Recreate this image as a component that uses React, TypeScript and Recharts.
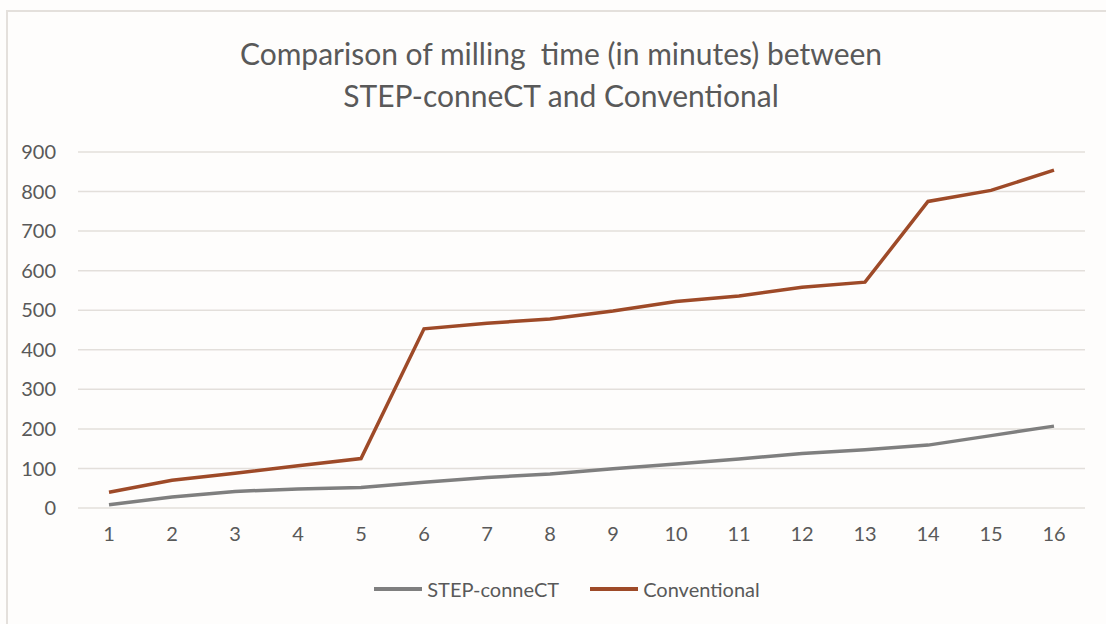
import { LineChart, Line, XAxis, YAxis, CartesianGrid, Legend } from "recharts"

const runs = ["1", "2", "3", "4", "5", "6", "7", "8", "9", "10", "11", "12", "13", "14", "15", "16"]
const stepConnect = [8, 28, 42, 48, 52, 65, 77, 86, 99, 111, 124, 138, 147, 159, 183, 207]
const conventional = [40, 70, 88, 107, 125, 453, 467, 478, 498, 522, 536, 558, 571, 775, 803, 854]
const yTicks = [0, 100, 200, 300, 400, 500, 600, 700, 800, 900]
const seriesNames = ["STEP-conneCT", "Conventional"]

const data = runs.map((run, i) => ({
  run,
  step: stepConnect[i],
  conv: conventional[i],
}))

const font = "Lato, 'Open Sans', sans-serif"
const textColor = "#595959"

function LegendBox(props: any) {
  const items = [...(props.payload || [])].sort(
    (a: any, b: any) => seriesNames.indexOf(a.value) - seriesNames.indexOf(b.value)
  )
  return (
    <div
      style={{
        display: "flex",
        justifyContent: "center",
        alignItems: "center",
        height: 24,
        paddingLeft: 28,
        fontFamily: font,
        fontSize: 20,
        color: textColor,
      }}
    >
      {items.map((item: any, i: number) => (
        <div
          key={item.value}
          style={{ display: "flex", alignItems: "center", marginLeft: i > 0 ? 31 : 0 }}
        >
          <svg width={48} height={10} style={{ marginRight: 5 }}>
            <line x1={0} y1={5} x2={48} y2={5} stroke={item.color} strokeWidth={4} />
          </svg>
          <span>{item.value}</span>
        </div>
      ))}
    </div>
  )
}

export default function App() {
  return (
    <div
      style={{
        position: "absolute",
        left: 0,
        top: 0,
        width: 1106,
        height: 624,
        background: "#fefdfc",
        fontFamily: font,
        overflow: "hidden",
      }}
    >
      <div
        style={{
          position: "absolute",
          left: 6,
          top: 10,
          width: 1200,
          height: 700,
          borderLeft: "2px solid #e4e0dc",
          borderTop: "2px solid #e4e0dc",
        }}
      />
      <div
        style={{
          position: "absolute",
          left: 0,
          width: 1122,
          top: 32,
          textAlign: "center",
          fontSize: 30,
          lineHeight: "42px",
          color: textColor,
        }}
      >
        Comparison of milling&nbsp; time (in minutes) between
        <br />
        STEP-conneCT and Conventional
      </div>
      <LineChart
        width={1106}
        height={624}
        data={data}
        margin={{ top: 152, right: 21, left: 0, bottom: 52 }}
        style={{ position: "absolute", left: 0, top: 0 }}
      >
        <CartesianGrid vertical={false} stroke="#e3dfdb" strokeWidth={1.5} />
        <XAxis
          dataKey="run"
          axisLine={false}
          tickLine={false}
          tickSize={0}
          tickMargin={19}
          height={40}
          padding={{ left: 31, right: 31 }}
          tick={{ fill: textColor, fontSize: 20, fontFamily: font }}
        />
        <YAxis
          domain={[0, 900]}
          ticks={yTicks}
          axisLine={false}
          tickLine={false}
          tickSize={0}
          tickMargin={22}
          width={78}
          tick={{ fill: textColor, fontSize: 20, fontFamily: font }}
        />
        <Legend
          verticalAlign="bottom"
          content={<LegendBox />}
          wrapperStyle={{ left: 0, width: 1106, top: 577, bottom: "auto" }}
        />
        <Line
          type="linear"
          dataKey="step"
          name="STEP-conneCT"
          stroke="#7f7f7f"
          strokeWidth={3.5}
          dot={false}
          isAnimationActive={false}
        />
        <Line
          type="linear"
          dataKey="conv"
          name="Conventional"
          stroke="#9e4a28"
          strokeWidth={3.5}
          dot={false}
          isAnimationActive={false}
        />
      </LineChart>
    </div>
  )
}
